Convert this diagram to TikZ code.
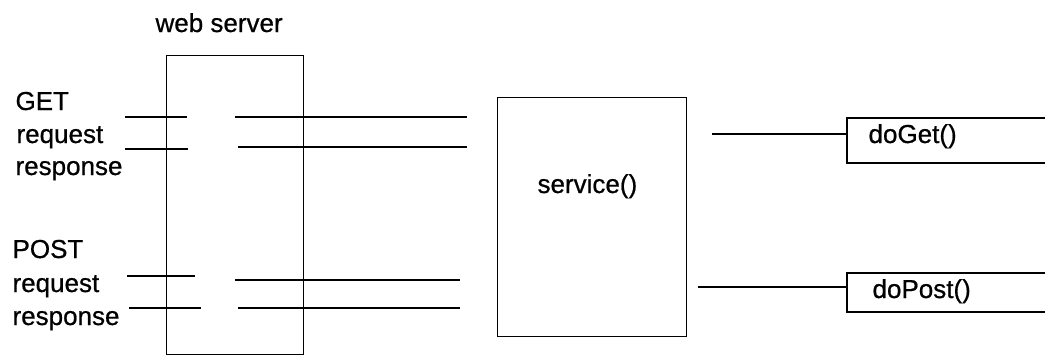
\documentclass[tikz,border=0pt]{standalone}
\usepackage{fontspec}
\setmainfont{Liberation Sans}
% slightly heavier strokes for the labels
\newfontfamily\lblfont{Liberation Sans}[BoldFont=Liberation Sans,BoldFeatures={FakeBold=0.7}]
\begin{document}
\begin{tikzpicture}[x=1pt,y=-1pt,line width=1.1pt,
  lbl/.style={font=\lblfont\bfseries\fontsize{26}{28}\selectfont,inner sep=0pt,anchor=base west},
  frame/.style={draw,line width=1.4pt,inner sep=0pt,anchor=north west},
  wire/.style={line width=1.4pt}]
\useasboundingbox (0,0) rectangle (1045,356);

% web server block
\node[frame,minimum width=137pt,minimum height=299pt] (ws) at (166,55) {};
\node[lbl] (wslbl) at (155,32) {web server};

% GET side
\node[lbl] (get)  at (15,110) {GET};
\node[lbl] (greq) at (16,143) {request};
\node[lbl] (gres) at (15,175) {response};
\coordinate (g1a) at (125,117); \coordinate (g1b) at (187,117);
\coordinate (g2a) at (125,149); \coordinate (g2b) at (188,149);
\coordinate (g3a) at (235,117); \coordinate (g3b) at (467,117);
\coordinate (g4a) at (238,147); \coordinate (g4b) at (467,147);
\draw[wire] (g1a) -- (g1b);
\draw[wire] (g2a) -- (g2b);
\draw[wire] (g3a) -- (g3b);
\draw[wire] (g4a) -- (g4b);

% POST side
\node[lbl] (post) at (12,258) {POST};
\node[lbl] (preq) at (12,292) {request};
\node[lbl] (pres) at (12,325) {response};
\coordinate (p1a) at (127,276); \coordinate (p1b) at (195,276);
\coordinate (p2a) at (129,308); \coordinate (p2b) at (201,308);
\coordinate (p3a) at (235,280); \coordinate (p3b) at (460,280);
\coordinate (p4a) at (238,308); \coordinate (p4b) at (460,308);
\draw[wire] (p1a) -- (p1b);
\draw[wire] (p2a) -- (p2b);
\draw[wire] (p3a) -- (p3b);
\draw[wire] (p4a) -- (p4b);

% service block
\node[frame,minimum width=189pt,minimum height=239pt] (svc) at (497,97) {};
\node[lbl] (svclbl) at (537,193) {service()};

% doGet handler (open on the right)
\coordinate (dgTop) at (1046,118);
\coordinate (dgBot) at (1046,163);
\coordinate (dgL) at (847,118);
\coordinate (dgLB) at (847,163);
\draw[line width=1.4pt] (dgTop) -- (dgL) -- (dgLB) -- (dgBot);
\node[lbl] (doget) at (868,143) {doGet()};
\coordinate (dgIn) at (712,134);
\draw[wire] (dgIn) -- (dgL |- dgIn);

% doPost handler (open on the right)
\coordinate (dpTop) at (1046,273);
\coordinate (dpBot) at (1046,312);
\coordinate (dpL) at (847,273);
\coordinate (dpLB) at (847,312);
\draw[line width=1.4pt] (dpTop) -- (dpL) -- (dpLB) -- (dpBot);
\node[lbl] (dopost) at (872,298) {doPost()};
\coordinate (dpIn) at (698,287);
\draw[wire] (dpIn) -- (dpL |- dpIn);
\end{tikzpicture}
\end{document}
